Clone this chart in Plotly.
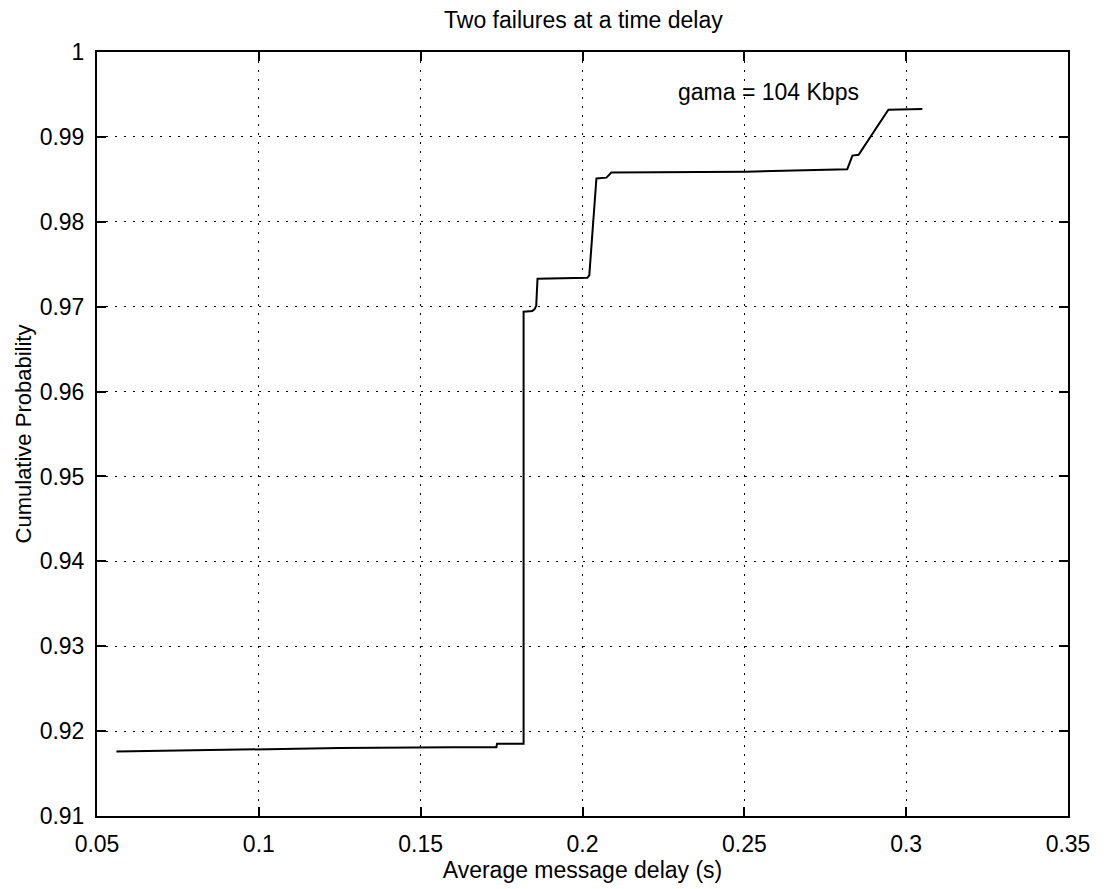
import plotly.graph_objects as go

# Data
delay = [0.0560, 0.0900, 0.1249, 0.1600, 0.1734, 0.1736, 0.1818, 0.1818,
         0.1845, 0.1852, 0.1857, 0.1861, 0.2015, 0.2021, 0.2043, 0.2074,
         0.2089, 0.2506, 0.2818, 0.2834, 0.2853, 0.2945, 0.3050]
cum_prob = [0.9176, 0.9178, 0.9180, 0.9181, 0.9181, 0.9185, 0.9185, 0.9694,
            0.9695, 0.9697, 0.9701, 0.9733, 0.9734, 0.9737, 0.9851, 0.9852,
            0.9858, 0.9859, 0.9862, 0.9878, 0.9879, 0.9932, 0.9933]

x_ticks = [0.05, 0.1, 0.15, 0.2, 0.25, 0.3, 0.35]
x_tick_labels = ["0.05", "0.1", "0.15", "0.2", "0.25", "0.3", "0.35"]
y_ticks = [0.91, 0.92, 0.93, 0.94, 0.95, 0.96, 0.97, 0.98, 0.99, 1.0]
y_tick_labels = ["0.91", "0.92", "0.93", "0.94", "0.95", "0.96", "0.97", "0.98", "0.99", "1"]

title_text = "Two failures at a time delay"
x_title = "Average message delay (s)"
y_title = "Cumulative Probability"
note_text = "gama = 104 Kbps"

FONT = "Liberation Sans, Arial, sans-serif"

fig = go.Figure()
fig.add_trace(go.Scatter(x=delay, y=cum_prob, mode="lines",
                         line=dict(color="black", width=2), showlegend=False))

axis_common = dict(
    showline=True, linecolor="black", linewidth=2, mirror="ticks",
    ticks="inside", ticklen=9, tickwidth=1.5, tickcolor="black",
    showgrid=True, gridcolor="black", gridwidth=1, griddash="2px,7px",
    zeroline=False, tickfont=dict(family=FONT, size=23, color="black"),
)

fig.update_xaxes(range=[0.05, 0.35], tickvals=x_ticks, ticktext=x_tick_labels,
                 title=dict(text=x_title, font=dict(family=FONT, size=23, color="black"), standoff=4),
                 ticklabelstandoff=6, **axis_common)
fig.update_yaxes(range=[0.91, 1.0], tickvals=y_ticks, ticktext=y_tick_labels,
                 title=dict(text=y_title, font=dict(family=FONT, size=22, color="black"), standoff=2),
                 ticklabelstandoff=6, **axis_common)

fig.add_annotation(x=0.229, y=0.9953, xref="x", yref="y", text=note_text,
                   showarrow=False, xanchor="left", yanchor="middle",
                   font=dict(family=FONT, size=23, color="black"))

fig.update_layout(
    width=1107, height=889,
    margin=dict(l=97, r=39, t=52, b=68),
    paper_bgcolor="white", plot_bgcolor="white",
    title=dict(text=title_text, x=0.527, xanchor="center", y=1 - 20 / 889, yanchor="middle",
               yref="container", font=dict(family=FONT, size=23, color="black")),
)

fig.write_html("out.html")
